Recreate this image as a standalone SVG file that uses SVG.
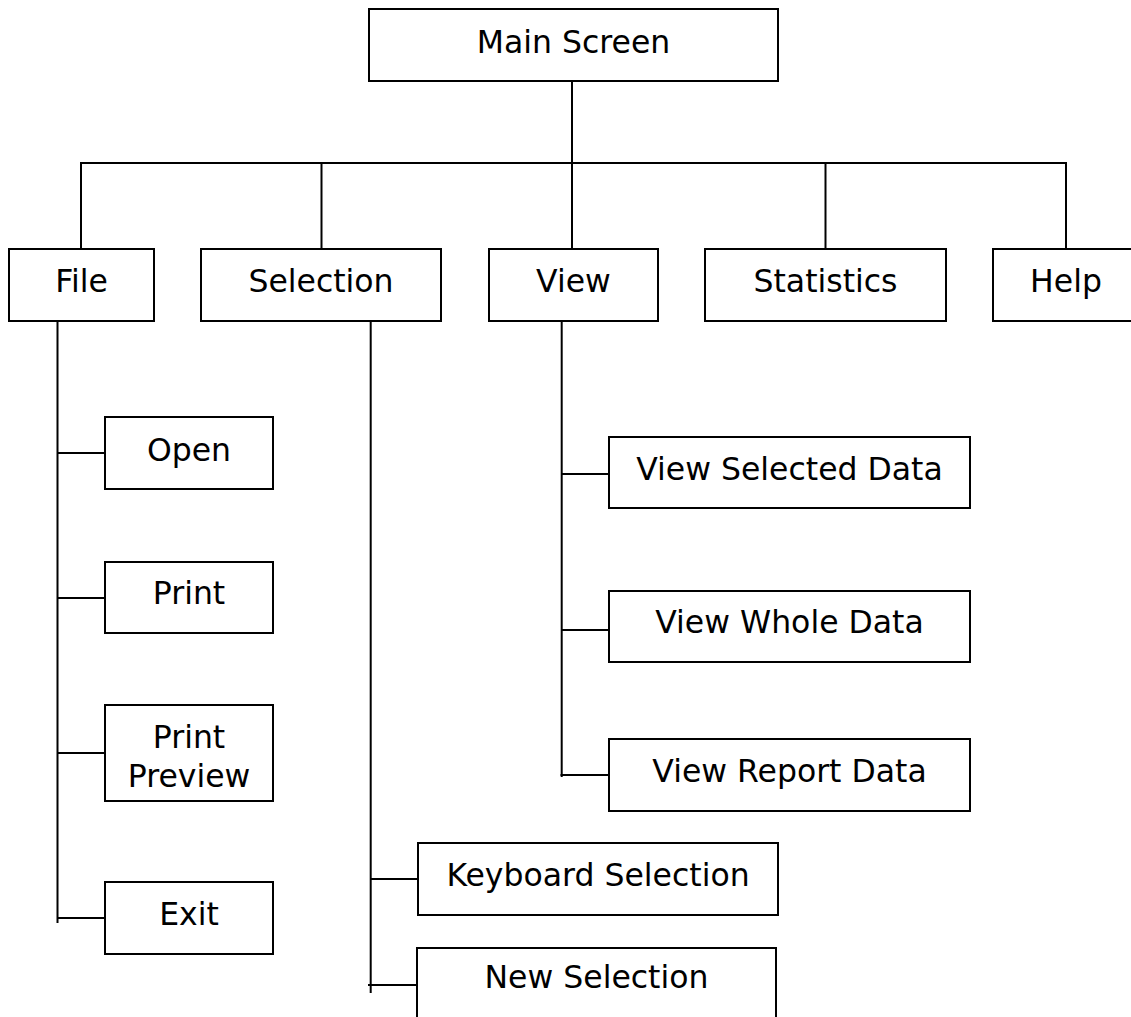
<svg xmlns="http://www.w3.org/2000/svg" width="1131" height="1017" viewBox="0 0 1131 1017">
<style>
.box{fill:#fff;stroke:#000;stroke-width:2}
.lbl{font-family:"DejaVu Sans",Verdana,sans-serif;font-size:31.5px;fill:#000;text-anchor:middle}
.con line{stroke:#000;stroke-width:2}
</style>
<rect width="1131" height="1017" fill="#fff"/>
<g id="connectors" class="con">
<line x1="572" y1="81" x2="572" y2="163"/>
<line x1="80" y1="163" x2="1067" y2="163"/>
<line x1="81" y1="163" x2="81" y2="249"/>
<line x1="321.5" y1="163" x2="321.5" y2="249"/>
<line x1="572" y1="163" x2="572" y2="251"/>
<line x1="825.5" y1="163" x2="825.5" y2="249"/>
<line x1="1066" y1="163" x2="1066" y2="249"/>
<line x1="57.5" y1="321" x2="57.5" y2="923"/>
<line x1="57.5" y1="453" x2="105" y2="453"/>
<line x1="57.5" y1="598" x2="105" y2="598"/>
<line x1="57.5" y1="753" x2="105" y2="753"/>
<line x1="57.5" y1="918" x2="105" y2="918"/>
<line x1="370.7" y1="321" x2="370.7" y2="993"/>
<line x1="370.7" y1="879" x2="418" y2="879"/>
<line x1="368" y1="985" x2="417" y2="985"/>
<line x1="561.7" y1="321" x2="561.7" y2="777"/>
<line x1="561.7" y1="474" x2="609" y2="474"/>
<line x1="561.7" y1="630" x2="609" y2="630"/>
<line x1="560.5" y1="775" x2="609" y2="775"/>
</g>
<g id="main"><rect class="box" x="369" y="9" width="409" height="72"/><text class="lbl" x="573.5" y="52.5">Main Screen</text></g>
<g id="file"><rect class="box" x="9" y="249" width="145" height="72"/><text class="lbl" x="81.5" y="292">File</text></g>
<g id="selection"><rect class="box" x="201" y="249" width="240" height="72"/><text class="lbl" x="321" y="292">Selection</text></g>
<g id="view"><rect class="box" x="489" y="249" width="169" height="72"/><text class="lbl" x="573.5" y="292">View</text></g>
<g id="statistics"><rect class="box" x="705" y="249" width="241" height="72"/><text class="lbl" x="825.5" y="292">Statistics</text></g>
<g id="help"><rect class="box" x="993" y="249" width="200" height="72"/><text class="lbl" x="1066" y="292">Help</text></g>
<g id="open"><rect class="box" x="105" y="417" width="168" height="72"/><text class="lbl" x="189" y="461">Open</text></g>
<g id="print"><rect class="box" x="105" y="562" width="168" height="71"/><text class="lbl" x="189" y="604">Print</text></g>
<g id="print-preview"><rect class="box" x="105" y="705" width="168" height="96"/><text class="lbl" x="189" y="748">Print</text><text class="lbl" x="189" y="787">Preview</text></g>
<g id="exit"><rect class="box" x="105" y="882" width="168" height="72"/><text class="lbl" x="189" y="925">Exit</text></g>
<g id="keyboard-selection"><rect class="box" x="418" y="843" width="360" height="72"/><text class="lbl" x="598" y="886">Keyboard Selection</text></g>
<g id="new-selection"><rect class="box" x="417" y="948" width="359" height="100"/><text class="lbl" x="596.5" y="988">New Selection</text></g>
<g id="view-selected-data"><rect class="box" x="609" y="437" width="361" height="71"/><text class="lbl" x="789.5" y="480">View Selected Data</text></g>
<g id="view-whole-data"><rect class="box" x="609" y="591" width="361" height="71"/><text class="lbl" x="789.5" y="633">View Whole Data</text></g>
<g id="view-report-data"><rect class="box" x="609" y="739" width="361" height="72"/><text class="lbl" x="789.5" y="782">View Report Data</text></g>
</svg>
